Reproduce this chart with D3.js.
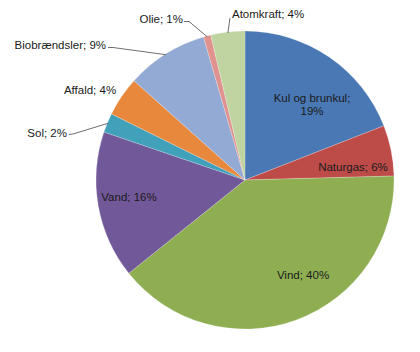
<!DOCTYPE html>
<html>
<head>
<meta charset="utf-8">
<script src="https://cdn.jsdelivr.net/npm/d3@7"></script>
<style>
  body { margin: 0; background: #fff; }
  text { font-family: "Liberation Sans", Arial, sans-serif; font-size: 11.5px; fill: #1a1a1a; }
</style>
</head>
<body>
<div id="chart"></div>
<script>
// Data (share of each source, clockwise from 12 o'clock)
const categories = ["Kul og brunkul", "Naturgas", "Vind", "Vand", "Sol", "Affald", "Biobrændsler", "Olie", "Atomkraft"];
const values = [19.1, 5.5, 39.7, 16.0, 2.1, 4.3, 8.9, 0.8, 3.7];
const labelTexts = ["Kul og brunkul;|19%", "Naturgas; 6%", "Vind; 40%", "Vand; 16%", "Sol; 2%", "Affald; 4%", "Biobrændsler; 9%", "Olie; 1%", "Atomkraft; 4%"];
const colors = ["#4a78b4", "#bd4c49", "#8fae52", "#715899", "#41a0ba", "#e8883d", "#93aad4", "#e0928f", "#bfd4a0"];

const width = 420;
const height = 352;
const cx = 245, cy = 180, radius = 149;

// label layout: x, y (baseline), anchor, leader (true = draw line to slice)
const labelLayout = [
    { x: 312, y: 101.5, anchor: "middle" },
    { x: 353, y: 171, anchor: "middle" },
    { x: 303, y: 279, anchor: "middle" },
    { x: 129, y: 201, anchor: "middle" },
    { x: 67, y: 137, anchor: "end", leader: [[69, 134.5], [73, 134]] },
    { x: 90, y: 93.5, anchor: "middle" },
    { x: 106, y: 48.5, anchor: "end", leader: [[108, 47.5], [113, 47.5]] },
    { x: 183, y: 22.5, anchor: "end", leader: [[184, 21.5], [189, 21.5]] },
    { x: 232, y: 17.5, anchor: "start", leader: [[230, 18]] }
];

const svg = d3.select("#chart")
    .append("svg")
    .attr("width", width)
    .attr("height", height);

const g = svg.append("g")
    .attr("transform", `translate(${cx}, ${cy})`);

const pie = d3.pie().sort(null).value(d => d);
const arcs = pie(values);

const arc = d3.arc().innerRadius(0).outerRadius(radius);
const edge = d3.arc().innerRadius(radius - 1).outerRadius(radius - 1);

g.selectAll("path.slice")
    .data(arcs)
    .enter()
    .append("path")
    .attr("class", "slice")
    .attr("d", arc)
    .attr("fill", (d, i) => colors[i])
    .attr("stroke", "rgba(255,255,255,0.35)")
    .attr("stroke-width", 0.6);

// leader lines for the outside labels
const line = d3.line();
arcs.forEach((d, i) => {
    const lay = labelLayout[i];
    if (!lay.leader) return;
    const [ex, ey] = edge.centroid(d);
    const pts = lay.leader.concat([[cx + ex, cy + ey]]);
    svg.append("path")
        .attr("d", line(pts))
        .attr("fill", "none")
        .attr("stroke", "#6f6f6f")
        .attr("stroke-width", 1);
});

// labels
labelTexts.forEach((t, i) => {
    const lay = labelLayout[i];
    const txt = svg.append("text")
        .attr("x", lay.x)
        .attr("y", lay.y)
        .attr("text-anchor", lay.anchor);
    t.split("|").forEach((part, j) => {
        txt.append("tspan")
            .attr("x", lay.x)
            .attr("dy", j === 0 ? 0 : 13.5)
            .text(part);
    });
});
</script>
</body>
</html>
